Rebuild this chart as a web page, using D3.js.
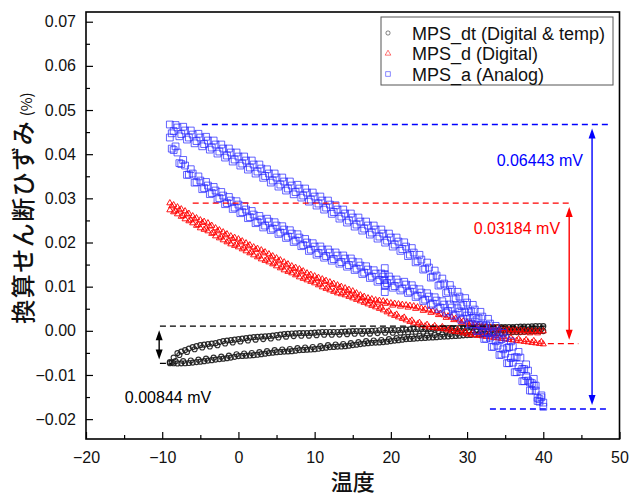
<!DOCTYPE html>
<html>
<head>
<meta charset="utf-8">
<script src="https://cdn.jsdelivr.net/npm/d3@7"></script>
<style>
  html, body { margin: 0; padding: 0; background: #fff; }
  svg { display: block; }
</style>
</head>
<body>
<svg id="chart" width="630" height="497"></svg>
<script>
// Temperature grids (°C) of the readings: whole, half and quarter degrees
const tempGrid = [-9,-8,-7,-6,-5,-4,-3,-2,-1,0,1,2,3,4,5,6,7,8,9,10,11,12,13,14,15,16,17,18,19,20,
  21,22,23,24,25,26,27,28,29,30,31,32,33,34,35,36,37,38,39,40];
const tempGridHalf = [-8.5,-7.5,-6.5,-5.5,-4.5,-3.5,-2.5,-1.5,-0.5,0.5,1.5,2.5,3.5,4.5,5.5,6.5,7.5,8.5,9.5,10.5,
  11.5,12.5,13.5,14.5,15.5,16.5,17.5,18.5,19.5,20.5,21.5,22.5,23.5,24.5,25.5,26.5,27.5,28.5,29.5,30.5,
  31.5,32.5,33.5,34.5,35.5,36.5,37.5,38.5,39.5];
const tempGridQ1 = [-8.75,-7.75,-6.75,-5.75,-4.75,-3.75,-2.75,-1.75,-0.75,0.25,1.25,2.25,3.25,4.25,5.25,6.25,7.25,8.25,9.25,10.25,
  11.25,12.25,13.25,14.25,15.25,16.25,17.25,18.25,19.25,20.25,21.25,22.25,23.25,24.25,25.25,26.25,27.25,28.25,29.25,30.25,
  31.25,32.25,33.25,34.25,35.25,36.25,37.25,38.25,39.25];
const tempGridQ3 = [-8.25,-7.25,-6.25,-5.25,-4.25,-3.25,-2.25,-1.25,-0.25,0.75,1.75,2.75,3.75,4.75,5.75,6.75,7.75,8.75,9.75,10.75,
  11.75,12.75,13.75,14.75,15.75,16.75,17.75,18.75,19.75,20.75,21.75,22.75,23.75,24.75,25.75,26.75,27.75,28.75,29.75,30.75,
  31.75,32.75,33.75,34.75,35.75,36.75,37.75,38.75,39.75];

// MPS_a (Analog): converted shear strain (%), upper and lower branch over several cycles
const mpsA_up1 = [0.04672,0.04604,0.04536,0.04445,0.04377,0.04309,0.04219,0.04128,0.04038,0.03947,
  0.03856,0.03766,0.03675,0.03562,0.03471,0.03381,0.03290,0.03222,0.03131,0.03041,
  0.02950,0.02859,0.02746,0.02656,0.02565,0.02474,0.02384,0.02293,0.02202,0.02112,
  0.02021,0.01908,0.01772,0.01613,0.01432,0.01251,0.01070,0.00934,0.00775,0.00639,
  0.00481,0.00322,0.00163,0.00005,-0.00154,-0.00358,-0.00607,-0.00901,-0.01241,-0.01626];
const mpsA_up2 = [0.04524,0.04456,0.04377,0.04297,0.04229,0.04150,0.04060,0.03969,0.03879,0.03788,
  0.03697,0.03607,0.03505,0.03403,0.03312,0.03222,0.03142,0.03063,0.02972,0.02882,
  0.02791,0.02689,0.02587,0.02497,0.02406,0.02315,0.02225,0.02134,0.02043,0.01953,
  0.01851,0.01726,0.01579,0.01409,0.01228,0.01047,0.00888,0.00741,0.00593,0.00446,
  0.00288,0.00129,-0.00030,-0.00189,-0.00370,-0.00597,-0.00868,-0.01185,-0.01548];
const mpsA_up3 = [0.04473,0.04405,0.04331,0.04246,0.04178,0.04104,0.04014,0.03923,0.03833,0.03742,
  0.03651,0.03561,0.03465,0.03357,0.03266,0.03176,0.03091,0.03017,0.02926,0.02836,
  0.02745,0.02649,0.02541,0.02451,0.02360,0.02269,0.02179,0.02088,0.01997,0.01907,
  0.01811,0.01692,0.01550,0.01386,0.01205,0.01024,0.00854,0.00712,0.00559,0.00417,
  0.00259,0.00100,-0.00059,-0.00217,-0.00387,-0.00602,-0.00863,-0.01168,-0.01519];
const mpsA_up4 = [0.04660,0.04621,0.04536,0.04462,0.04394,0.04309,0.04219,0.04128,0.04038,0.03947,
  0.03856,0.03766,0.03658,0.03562,0.03471,0.03381,0.03307,0.03222,0.03131,0.03041,
  0.02950,0.02842,0.02746,0.02656,0.02565,0.02474,0.02384,0.02293,0.02202,0.02112,
  0.02004,0.01874,0.01721,0.01545,0.01364,0.01183,0.01036,0.00883,0.00741,0.00588,
  0.00430,0.00271,0.00112,-0.00046,-0.00239,-0.00477,-0.00760,-0.01088,-0.01462];
const mpsA_down1 = [0.04377,0.04038,0.03743,0.03562,0.03403,0.03290,0.03177,0.03063,0.02950,0.02859,
  0.02746,0.02633,0.02520,0.02474,0.02384,0.02293,0.02202,0.02112,0.01999,0.01908,
  0.01840,0.01772,0.01704,0.01636,0.01568,0.01477,0.01387,0.01296,0.01228,0.01160,
  0.01092,0.01047,0.00956,0.00866,0.00775,0.00685,0.00594,0.00526,0.00435,0.00345,
  0.00209,0.00028,-0.00154,-0.00335,-0.00516,-0.00720,-0.00924,-0.01128,-0.01354,-0.01720];
const mpsA_down2 = [0.04094,0.03777,0.03539,0.03369,0.03233,0.03120,0.03006,0.02893,0.02791,0.02689,
  0.02576,0.02463,0.02383,0.02315,0.02225,0.02134,0.02043,0.01942,0.01840,0.01760,
  0.01692,0.01624,0.01556,0.01488,0.01409,0.01318,0.01228,0.01148,0.01080,0.01012,
  0.00956,0.00888,0.00797,0.00707,0.00616,0.00526,0.00446,0.00367,0.00276,0.00163,
  0.00005,-0.00177,-0.00359,-0.00540,-0.00732,-0.00936,-0.01140,-0.01355,-0.01604];
const mpsA_down3 = [0.04125,0.03797,0.03531,0.03355,0.03208,0.03095,0.02981,0.02868,0.02760,0.02664,
  0.02551,0.02438,0.02341,0.02284,0.02194,0.02103,0.02012,0.01917,0.01809,0.01724,
  0.01656,0.01588,0.01520,0.01452,0.01378,0.01287,0.01197,0.01112,0.01044,0.00976,
  0.00914,0.00857,0.00766,0.00676,0.00585,0.00495,0.00410,0.00336,0.00245,0.00144,
  -0.00003,-0.00185,-0.00366,-0.00547,-0.00734,-0.00938,-0.01142,-0.01352,-0.01589];
const mpsA_down4 = [0.04176,0.03870,0.03660,0.03496,0.03371,0.03258,0.03144,0.03031,0.02935,0.02827,
  0.02714,0.02601,0.02538,0.02459,0.02369,0.02278,0.02187,0.02080,0.01984,0.01910,
  0.01842,0.01774,0.01706,0.01638,0.01553,0.01462,0.01372,0.01298,0.01230,0.01162,
  0.01111,0.01032,0.00941,0.00851,0.00760,0.00670,0.00596,0.00511,0.00420,0.00296,
  0.00126,-0.00056,-0.00237,-0.00418,-0.00616,-0.00820,-0.01024,-0.01245,-0.01505];
// short jump recorded around 19 °C
const mpsA_jumpTemps = [19.2,19.2,19.2,19.2,19.2];
const mpsA_jump = [0.01420,0.01284,0.01148,0.01013,0.00877];

// MPS_d (Digital)
const mpsD_up1 = [0.02893,0.02802,0.02712,0.02599,0.02508,0.02440,0.02327,0.02236,0.02145,0.02077,
  0.01987,0.01896,0.01828,0.01738,0.01647,0.01556,0.01466,0.01398,0.01307,0.01239,
  0.01171,0.01103,0.01035,0.00967,0.00899,0.00809,0.00741,0.00696,0.00673,0.00628,
  0.00605,0.00582,0.00560,0.00514,0.00469,0.00424,0.00356,0.00310,0.00242,0.00197,
  0.00152,0.00106,0.00084,0.00061,0.00039,0.00016,0.00016,-0.00007,-0.00007,-0.00007];
const mpsD_up2 = [0.02848,0.02757,0.02656,0.02554,0.02474,0.02384,0.02282,0.02191,0.02111,0.02032,
  0.01942,0.01862,0.01783,0.01693,0.01602,0.01511,0.01432,0.01353,0.01273,0.01205,
  0.01137,0.01069,0.01001,0.00933,0.00854,0.00775,0.00719,0.00685,0.00651,0.00617,
  0.00594,0.00571,0.00537,0.00492,0.00447,0.00390,0.00333,0.00276,0.00220,0.00175,
  0.00129,0.00095,0.00073,0.00050,0.00028,0.00016,0.00005,-0.00007,-0.00007];
const mpsD_up3 = [0.02825,0.02734,0.02639,0.02531,0.02446,0.02367,0.02259,0.02168,0.02083,0.02009,
  0.01919,0.01834,0.01760,0.01670,0.01579,0.01488,0.01404,0.01330,0.01245,0.01177,
  0.01109,0.01041,0.00973,0.00905,0.00831,0.00747,0.00685,0.00645,0.00617,0.00577,
  0.00554,0.00531,0.00503,0.00458,0.00413,0.00362,0.00299,0.00248,0.00186,0.00141,
  0.00095,0.00055,0.00033,0.00010,-0.00012,-0.00029,-0.00035,-0.00052,-0.00052];
const mpsD_down1 = [0.02735,0.02644,0.02531,0.02440,0.02327,0.02259,0.02145,0.02055,0.01964,0.01896,
  0.01806,0.01715,0.01624,0.01556,0.01466,0.01375,0.01307,0.01217,0.01149,0.01081,
  0.00990,0.00922,0.00854,0.00809,0.00741,0.00673,0.00605,0.00537,0.00469,0.00378,
  0.00310,0.00242,0.00174,0.00129,0.00084,0.00061,0.00039,-0.00007,-0.00029,-0.00075,
  -0.00097,-0.00120,-0.00143,-0.00165,-0.00188,-0.00211,-0.00233,-0.00256,-0.00279,-0.00301];
const mpsD_down2 = [0.02690,0.02588,0.02486,0.02384,0.02293,0.02202,0.02100,0.02010,0.01930,0.01851,
  0.01761,0.01670,0.01590,0.01511,0.01421,0.01341,0.01262,0.01183,0.01115,0.01036,
  0.00956,0.00888,0.00832,0.00775,0.00707,0.00639,0.00571,0.00503,0.00424,0.00344,
  0.00276,0.00208,0.00152,0.00107,0.00073,0.00050,0.00016,-0.00018,-0.00052,-0.00086,
  -0.00109,-0.00132,-0.00154,-0.00177,-0.00200,-0.00222,-0.00245,-0.00268,-0.00290];
const mpsD_down3 = [0.02712,0.02604,0.02508,0.02400,0.02321,0.02218,0.02122,0.02032,0.01958,0.01873,
  0.01783,0.01692,0.01618,0.01533,0.01443,0.01369,0.01284,0.01211,0.01143,0.01058,
  0.00984,0.00916,0.00865,0.00803,0.00735,0.00667,0.00599,0.00531,0.00446,0.00372,
  0.00304,0.00236,0.00185,0.00140,0.00112,0.00089,0.00049,0.00021,-0.00019,-0.00047,
  -0.00069,-0.00092,-0.00115,-0.00137,-0.00160,-0.00183,-0.00205,-0.00228,-0.00251];

// MPS_dt (Digital & temp)
const mpsDt_up1 = [-0.00709,-0.00505,-0.00437,-0.00369,-0.00324,-0.00301,-0.00279,-0.00233,-0.00211,-0.00188,
  -0.00165,-0.00143,-0.00131,-0.00120,-0.00097,-0.00075,-0.00063,-0.00052,-0.00052,-0.00041,
  -0.00029,-0.00029,-0.00029,-0.00018,-0.00007,-0.00007,-0.00007,0.00005,0.00016,0.00016,
  0.00016,0.00027,0.00039,0.00039,0.00039,0.00050,0.00061,0.00061,0.00061,0.00072,
  0.00084,0.00084,0.00084,0.00084,0.00084,0.00084,0.00095,0.00095,0.00106,0.00106];
const mpsDt_up2 = [-0.00607,-0.00471,-0.00403,-0.00347,-0.00313,-0.00290,-0.00256,-0.00222,-0.00200,-0.00177,
  -0.00154,-0.00137,-0.00126,-0.00109,-0.00086,-0.00069,-0.00058,-0.00052,-0.00047,-0.00035,
  -0.00029,-0.00029,-0.00024,-0.00013,-0.00007,-0.00007,-0.00001,0.00011,0.00016,0.00016,
  0.00022,0.00033,0.00039,0.00039,0.00045,0.00056,0.00061,0.00061,0.00067,0.00078,
  0.00084,0.00084,0.00084,0.00084,0.00084,0.00090,0.00095,0.00101,0.00106];
const mpsDt_up3 = [-0.00718,-0.00548,-0.00480,-0.00418,-0.00378,-0.00355,-0.00327,-0.00287,-0.00265,-0.00242,
  -0.00219,-0.00200,-0.00188,-0.00174,-0.00151,-0.00132,-0.00120,-0.00112,-0.00109,-0.00098,
  -0.00089,-0.00089,-0.00086,-0.00075,-0.00067,-0.00067,-0.00064,-0.00052,-0.00044,-0.00044,
  -0.00041,-0.00030,-0.00021,-0.00021,-0.00018,-0.00007,0.00001,0.00001,0.00004,0.00015,
  0.00024,0.00024,0.00024,0.00024,0.00027,0.00027,0.00035,0.00038,0.00046];
const mpsDt_down1 = [-0.00732,-0.00738,-0.00735,-0.00720,-0.00698,-0.00675,-0.00652,-0.00630,-0.00607,-0.00573,
  -0.00562,-0.00551,-0.00528,-0.00505,-0.00483,-0.00471,-0.00460,-0.00437,-0.00426,-0.00415,
  -0.00392,-0.00369,-0.00358,-0.00347,-0.00324,-0.00301,-0.00279,-0.00267,-0.00256,-0.00233,
  -0.00211,-0.00188,-0.00177,-0.00165,-0.00154,-0.00143,-0.00131,-0.00120,-0.00109,-0.00097,
  -0.00086,-0.00075,-0.00063,-0.00052,-0.00041,-0.00029,-0.00029,-0.00018,-0.00007,-0.00007];
const mpsDt_down2 = [-0.00735,-0.00737,-0.00728,-0.00709,-0.00687,-0.00664,-0.00641,-0.00619,-0.00590,-0.00568,
  -0.00557,-0.00540,-0.00517,-0.00494,-0.00477,-0.00466,-0.00449,-0.00432,-0.00421,-0.00404,
  -0.00381,-0.00364,-0.00353,-0.00336,-0.00313,-0.00290,-0.00273,-0.00262,-0.00245,-0.00222,
  -0.00200,-0.00183,-0.00171,-0.00160,-0.00149,-0.00137,-0.00126,-0.00115,-0.00103,-0.00092,
  -0.00081,-0.00069,-0.00058,-0.00047,-0.00035,-0.00029,-0.00024,-0.00013,-0.00007];
const mpsDt_down3 = [-0.00687,-0.00686,-0.00674,-0.00654,-0.00631,-0.00608,-0.00585,-0.00563,-0.00531,-0.00515,
  -0.00504,-0.00484,-0.00461,-0.00438,-0.00424,-0.00413,-0.00393,-0.00379,-0.00368,-0.00348,
  -0.00325,-0.00311,-0.00300,-0.00280,-0.00257,-0.00234,-0.00220,-0.00209,-0.00189,-0.00166,
  -0.00144,-0.00130,-0.00118,-0.00107,-0.00096,-0.00084,-0.00073,-0.00062,-0.00050,-0.00039,
  -0.00028,-0.00016,-0.00005,0.00006,0.00018,0.00021,0.00029,0.00040,0.00043];

// Axis ticks and texts
const xMajorTicks = [-20,-10,0,10,20,30,40,50];
const xMinorTicks = [-15,-5,5,15,25,35,45];
const yMajorTicks = [-0.02,-0.01,0.00,0.01,0.02,0.03,0.04,0.05,0.06,0.07];
const yMinorTicks = [-0.015,-0.005,0.005,0.015,0.025,0.035,0.045,0.055,0.065];
const xTitle = "温度";
const yTitle = "換算せん断ひずみ";
const yTitleUnit = " (%)";
const legendLabels = ["MPS_dt (Digital & temp)", "MPS_d (Digital)", "MPS_a (Analog)"];
// Peak-to-peak spans stated in the annotations
const spanLabels = ["0.00844 mV", "0.03184 mV", "0.06443 mV"];
const spanValues = [0.00844, 0.03184, 0.06443];

// ---------------------------------------------------------------
const svg = d3.select("#chart");
const latin = "'Liberation Sans', Arial, 'Noto Sans CJK JP', sans-serif";
const cjk = "'Noto Sans CJK JP', 'Noto Sans CJK SC', sans-serif";

const plot = { left: 86, right: 619.5, top: 12, bottom: 439 };
const x = d3.scaleLinear().domain([-20, 50]).range([plot.left, plot.right]);
const y = d3.scaleLinear().domain([-0.0245, 0.0722]).range([plot.bottom, plot.top]);

const toPoints = (temps, vals) => temps.map((t, i) => ({ t, v: vals[i] }));

const seriesDefs = [
  { name: "dt", color: "#1a1a1a", opacity: 0.9, width: 1.1, symbol: d3.symbolCircle, size: 20,
    parts: [[tempGrid, mpsDt_up1], [tempGridHalf, mpsDt_up2], [tempGridQ1, mpsDt_up3],
            [tempGrid, mpsDt_down1], [tempGridHalf, mpsDt_down2], [tempGridQ3, mpsDt_down3]] },
  { name: "d", color: "#ff0000", opacity: 0.9, width: 1.0, symbol: d3.symbolTriangle, size: 16,
    parts: [[tempGrid, mpsD_up1], [tempGridHalf, mpsD_up2], [tempGridQ1, mpsD_up3],
            [tempGrid, mpsD_down1], [tempGridHalf, mpsD_down2], [tempGridQ3, mpsD_down3]] },
  { name: "a", color: "#2424ff", opacity: 0.75, width: 0.95, symbol: d3.symbolSquare, size: 46,
    parts: [[tempGrid, mpsA_up1], [tempGridHalf, mpsA_up2], [tempGridQ1, mpsA_up3], [tempGridQ3, mpsA_up4],
            [tempGrid, mpsA_down1], [tempGridHalf, mpsA_down2], [tempGridQ1, mpsA_down3], [tempGridQ3, mpsA_down4],
            [mpsA_jumpTemps, mpsA_jump]] }
];
seriesDefs.forEach(s => {
  s.points = s.parts.flatMap(([temps, vals]) => toPoints(temps, vals));
});

// Data markers
const gData = svg.append("g");
seriesDefs.forEach(s => {
  gData.append("g")
    .selectAll("path")
    .data(s.points)
    .join("path")
    .attr("transform", d => `translate(${x(d.t)},${y(d.v)})`)
    .attr("d", d3.symbol().type(s.symbol).size(s.size))
    .attr("fill", "none")
    .attr("stroke", s.color)
    .attr("stroke-opacity", s.opacity)
    .attr("stroke-width", s.width);
});

// Peak-to-peak annotations: dashed max/min levels with a double arrow
const spanLayout = [
  { color: "#000000", top: [-10.3, 40.3], bottom: [-10.3, -8.8], arrowT: -10.4,
    label: { t: -14.9, v: -0.01638, anchor: "start" } },
  { color: "#ff0000", top: [-6.0, 43.6], bottom: [40.6, 44.6], arrowT: 43.4,
    label: { t: 42.2, v: 0.02191, anchor: "end" } },
  { color: "#0000ff", top: [-4.8, 48.8], bottom: [33.0, 48.5], arrowT: 46.4,
    label: { t: 45.2, v: 0.03731, anchor: "end" } }
];

const gAnn = svg.append("g");
function arrowHead(px, py, dir, color) {
  // dir: -1 points up, +1 points down
  const L = 10, Wd = 3.5;
  gAnn.append("path")
    .attr("d", `M${px},${py} L${px - Wd},${py - dir * L} L${px + Wd},${py - dir * L} Z`)
    .attr("fill", color);
}
spanLayout.forEach((a, i) => {
  const s = seriesDefs[i];
  const vMax = d3.max(s.points, d => d.v);
  const vMin = vMax - spanValues[i];
  const yTop = y(vMax), yBot = y(vMin);
  gAnn.append("line")
    .attr("x1", x(a.top[0])).attr("x2", x(a.top[1]))
    .attr("y1", yTop).attr("y2", yTop)
    .attr("stroke", a.color).attr("stroke-width", 1.3).attr("stroke-dasharray", "6,4");
  gAnn.append("line")
    .attr("x1", x(a.bottom[0])).attr("x2", x(a.bottom[1]))
    .attr("y1", yBot).attr("y2", yBot)
    .attr("stroke", a.color).attr("stroke-width", 1.3).attr("stroke-dasharray", "6,4");
  const ax = x(a.arrowT);
  const yA = yTop + 4, yB = yBot - 4;
  gAnn.append("line")
    .attr("x1", ax).attr("x2", ax).attr("y1", yA + 8).attr("y2", yB - 8)
    .attr("stroke", a.color).attr("stroke-width", 1.4);
  arrowHead(ax, yA, -1, a.color);
  arrowHead(ax, yB, 1, a.color);
  gAnn.append("text")
    .attr("x", x(a.label.t)).attr("y", y(a.label.v))
    .attr("text-anchor", a.label.anchor)
    .attr("font-family", latin).attr("font-size", 16)
    .attr("fill", a.color)
    .text(spanLabels[i]);
});

// Axes: ticks point inward, frame drawn separately
const xAxis = svg.append("g").attr("transform", `translate(0,${plot.bottom})`)
  .call(d3.axisBottom(x).tickValues(xMajorTicks).tickSizeInner(-7).tickSizeOuter(0).tickPadding(13)
    .tickFormat(d3.format("d")));
const xAxisMinor = svg.append("g").attr("transform", `translate(0,${plot.bottom})`)
  .call(d3.axisBottom(x).tickValues(xMinorTicks).tickSizeInner(-4).tickSizeOuter(0).tickFormat(""));
const yAxis = svg.append("g").attr("transform", `translate(${plot.left},0)`)
  .call(d3.axisLeft(y).tickValues(yMajorTicks).tickSizeInner(-7).tickSizeOuter(0).tickPadding(10)
    .tickFormat(d3.format(".2f")));
const yAxisMinor = svg.append("g").attr("transform", `translate(${plot.left},0)`)
  .call(d3.axisLeft(y).tickValues(yMinorTicks).tickSizeInner(-4).tickSizeOuter(0).tickFormat(""));

[xAxis, xAxisMinor, yAxis, yAxisMinor].forEach(g => {
  g.select(".domain").remove();
  g.selectAll(".tick line").attr("stroke", "#000").attr("stroke-width", 1.2);
  g.selectAll(".tick text").attr("font-family", latin).attr("font-size", 16).attr("fill", "#111");
});

svg.append("rect")
  .attr("x", plot.left).attr("y", plot.top)
  .attr("width", plot.right - plot.left).attr("height", plot.bottom - plot.top)
  .attr("fill", "none").attr("stroke", "#000").attr("stroke-width", 1.6);

// Axis titles
svg.append("text")
  .attr("x", (plot.left + plot.right) / 2).attr("y", 490)
  .attr("text-anchor", "middle")
  .attr("font-family", cjk).attr("font-size", 22).attr("font-weight", 500)
  .attr("fill", "#111")
  .text(xTitle);

const yt = svg.append("text")
  .attr("transform", "translate(32,208) rotate(-90)")
  .attr("text-anchor", "middle")
  .attr("font-family", cjk).attr("fill", "#111");
yt.append("tspan").attr("font-size", 24).attr("font-weight", 500).attr("letter-spacing", 1.5).text(yTitle);
yt.append("tspan").attr("font-size", 15).text(yTitleUnit);

// Legend
const lg = svg.append("g").attr("transform", "translate(381,17)");
lg.append("rect").attr("width", 232).attr("height", 68)
  .attr("fill", "#fff").attr("stroke", "#555").attr("stroke-width", 1);
seriesDefs.forEach((s, i) => {
  const row = lg.append("g").attr("transform", `translate(7,${16 + i * 20.5})`);
  row.append("path")
    .attr("d", d3.symbol().type(s.symbol).size(s.name === "a" ? 22 : 14))
    .attr("fill", "none").attr("stroke", s.color).attr("stroke-opacity", 0.6).attr("stroke-width", 0.9);
  row.append("text")
    .attr("x", 24).attr("y", 6.5)
    .attr("font-family", latin).attr("font-size", 18).attr("fill", "#111")
    .text(legendLabels[i]);
});
</script>
</body>
</html>
